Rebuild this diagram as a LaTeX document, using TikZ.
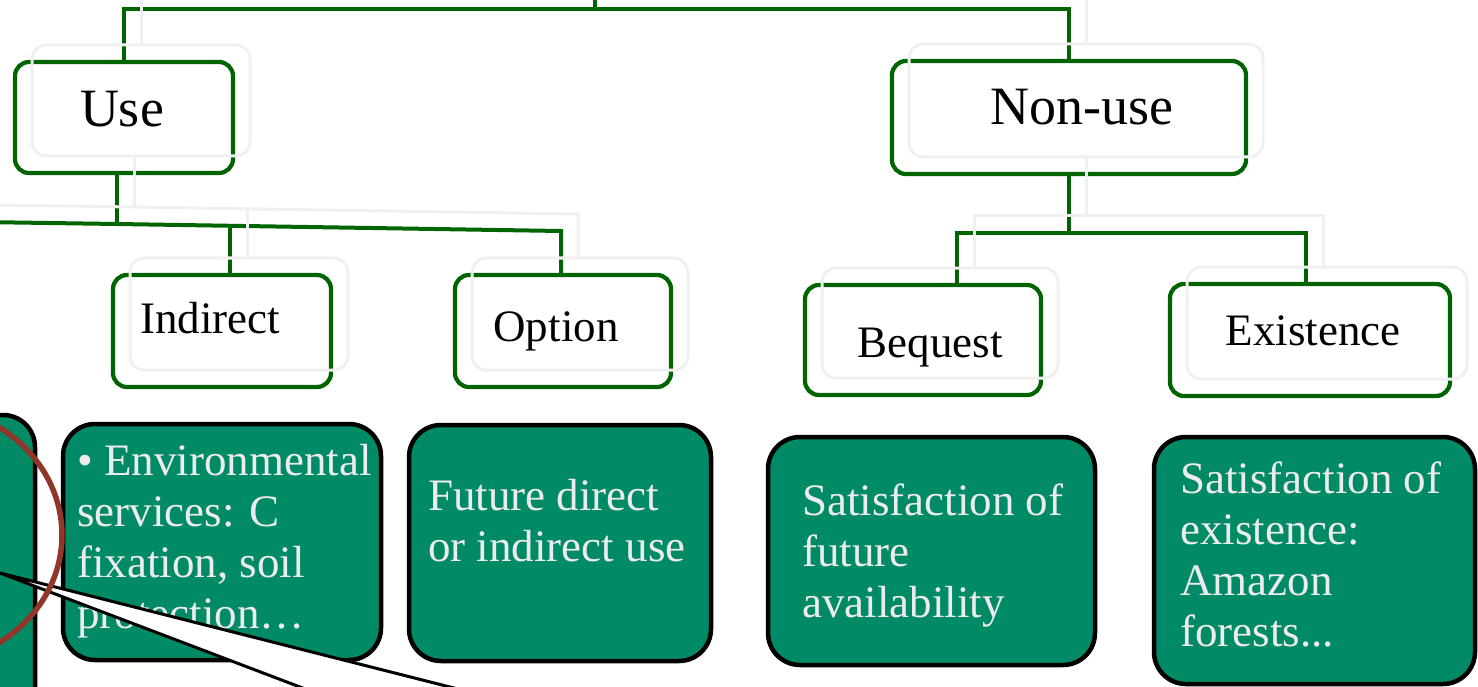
\documentclass[tikz,border=0pt]{standalone}
\usepackage{fontspec}
\setmainfont{Liberation Serif}
\definecolor{lineGreen}{RGB}{0,100,0}
\definecolor{tealFill}{RGB}{0,138,102}
\definecolor{txtLight}{RGB}{236,236,236}
\definecolor{ghostGray}{RGB}{240,240,240}
\definecolor{ringRed}{RGB}{145,55,42}
\begin{document}
\begin{tikzpicture}[x=1pt,y=-1pt,
  catbox/.style={draw=lineGreen, line width=4.2pt, rounded corners=14pt, inner sep=0pt, shape=rectangle},
  ghostbox/.style={draw=ghostGray, line width=3pt, rounded corners=14pt, inner sep=0pt, shape=rectangle},
  conn/.style={draw=lineGreen, line width=4pt},
  ghostconn/.style={draw=ghostGray, line width=3pt},
  infobox/.style={draw=black, line width=4.5pt, fill=tealFill, rounded corners=32pt, inner sep=0pt, shape=rectangle},
  infotext/.style={text=txtLight, font=\fontsize{45}{51}\selectfont, align=left, anchor=north west, inner sep=0pt},
  lblbig/.style={anchor=base, inner sep=0pt, font=\fontsize{54}{60}\selectfont},
  lblsmall/.style={anchor=base, inner sep=0pt, font=\fontsize{45}{50}\selectfont},
  zoomwedge/.style={draw=black, line width=3pt, fill=white},
  ring/.style={draw=ringRed, line width=5.5pt}
]
\useasboundingbox (0,0) rectangle (1478,687);
\clip (0,0) rectangle (1478,687);

% tree: main pass, then light ghost copy shifted up-right
\foreach \p/\st/\cs/\dx/\dy in {m/catbox/conn/0/0, g/ghostbox/ghostconn/17/-17}{
  \node[\st, minimum width=218pt, minimum height=111pt] (\p-use) at ({124+\dx},{117.5+\dy}) {};
  \node[\st, minimum width=354pt, minimum height=113pt] (\p-nonuse) at ({1069+\dx},{117.5+\dy}) {};
  \node[\st, minimum width=218pt, minimum height=112pt] (\p-indirect) at ({222+\dx},{331+\dy}) {};
  \node[\st, minimum width=216pt, minimum height=112pt] (\p-option) at ({563+\dx},{331+\dy}) {};
  \node[\st, minimum width=236pt, minimum height=110pt] (\p-bequest) at ({923+\dx},{340+\dy}) {};
  \node[\st, minimum width=280pt, minimum height=112pt] (\p-existence) at ({1310+\dx},{340+\dy}) {};
  \coordinate (\p-root) at ({595+\dx},{-20+\dy});
  \coordinate (\p-topy) at ({0+\dx},{9+\dy});
  \coordinate (\p-direct) at ({-20+\dx},{222+\dy});
  \coordinate (\p-usej) at ({117+\dx},{224+\dy});
  \coordinate (\p-indj) at ({230+\dx},{226+\dy});
  \coordinate (\p-optj) at ({561+\dx},{231+\dy});
  \coordinate (\p-nj) at ({1069+\dx},{233+\dy});
  \coordinate (\p-bj) at ({957+\dx},{233+\dy});
  \coordinate (\p-ej) at ({1306+\dx},{233+\dy});
  \draw[\cs] (\p-use.north) -- (\p-use.north |- \p-topy) -- (\p-nonuse.north |- \p-topy) -- (\p-nonuse.north);
  \draw[\cs] (\p-root) -- (\p-root |- \p-topy);
  \draw[\cs] (\p-use.south -| \p-usej) -- (\p-usej);
  \draw[\cs] (\p-direct) -- (\p-usej) -- (\p-optj) -- (\p-option.north -| \p-optj);
  \draw[\cs] (\p-indj) -- (\p-indirect.north -| \p-indj);
  \draw[\cs] (\p-nonuse.south) -- (\p-nj);
  \draw[\cs] (\p-bequest.north -| \p-bj) -- (\p-bj) -- (\p-ej) -- (\p-existence.north -| \p-ej);
}

% labels
\node[lblbig] (useL) at (122,127) {Use};
\node[lblbig] (nonuseL) at (1082,125) {Non-use};
\node[lblsmall, anchor=base west] (indirectL) at (140,333) {Indirect};
\node[lblsmall] (optionL) at (556,341) {Option};
\node[lblsmall] (bequestL) at (930,357) {Bequest};
\node[lblsmall] (existenceL) at (1313,345) {Existence};

% description boxes
\node[infobox, minimum width=160pt, minimum height=400pt] (directBox) at (-45,615) {};
\node[infobox, minimum width=318pt, minimum height=236pt] (indBox) at (222,542) {};
\node[infobox, minimum width=302pt, minimum height=236pt] (optBox) at (560,543) {};
\node[infobox, minimum width=327pt, minimum height=228pt] (beqBox) at (931.5,551) {};
\node[infobox, minimum width=321pt, minimum height=247pt] (exiBox) at (1314.5,560.5) {};

\node[infotext] (indT) at (77,444) {• Environmental\\services: C\\fixation, soil\\protection…};
\node[infotext] (optT) at (428,479) {Future direct\\or indirect use};
\node[infotext] (beqT) at (802,484) {Satisfaction of\\future\\availability};
\node[infotext] (exiT) at (1180,462) {Satisfaction of\\existence:\\Amazon\\forests...};

% zoom callout wedge and ring
\coordinate (apex) at (0,573);
\coordinate (wedgeLow) at (400,725);
\coordinate (wedgeHigh) at (600,725);
\draw[zoomwedge] (apex) -- (wedgeLow) -- (wedgeHigh) -- cycle;
\draw[ring] (-81,535) ellipse [x radius=143, y radius=130];
\end{tikzpicture}
\end{document}
